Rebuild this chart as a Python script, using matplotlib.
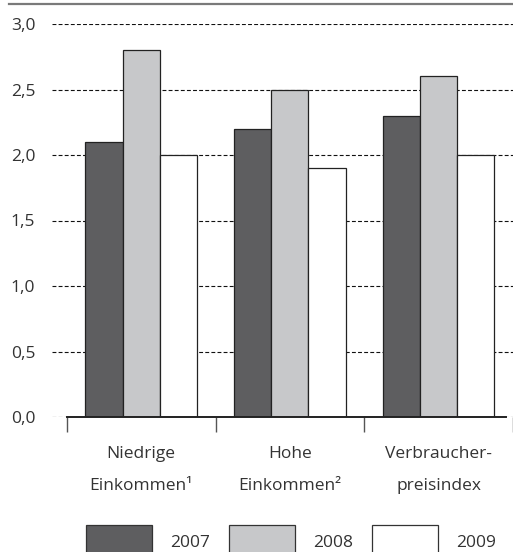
import matplotlib
matplotlib.use('Agg')
import matplotlib.pyplot as plt
import numpy as np
from matplotlib.lines import Line2D
from matplotlib.patches import Patch

# data
categories = ['Niedrige\nEinkommen\u00b9', 'Hohe\nEinkommen\u00b2', 'Verbraucher-\npreisindex']
years = ['2007', '2008', '2009']
values_2007 = [2.1, 2.2, 2.3]
values_2008 = [2.8, 2.5, 2.6]
values_2009 = [2.0, 1.9, 2.0]
y_ticks = [0.0, 0.5, 1.0, 1.5, 2.0, 2.5, 3.0]
y_labels = ['0,0', '0,5', '1,0', '1,5', '2,0', '2,5', '3,0']

colors = ['#5e5e60', '#c7c8ca', '#ffffff']
text_col = '#333333'
fs = 12.5
fs_px = fs * 100 / 72

plt.rcParams['font.family'] = ['Open Sans', 'DejaVu Sans']
plt.rcParams['font.size'] = fs

W, H = 513, 552
fig = plt.figure(figsize=(W / 100, H / 100), dpi=100)

# axes placed in pixel terms: grid starts at x=52, baseline y=417, 3.0 at y=24
ax_left, ax_right = 52, 513
ax_bottom, ax_top = 417, 24
ax = fig.add_axes([ax_left / W, 1 - ax_bottom / H,
                   (ax_right - ax_left) / W, (ax_bottom - ax_top) / H])

group_px = 151.0
x0 = -0.5 - (67 - ax_left) / group_px
x1 = -0.5 + (ax_right - 67) / group_px
ax.set_xlim(x0, x1)
ax.set_ylim(0, 3.0)

x = np.arange(len(categories))
w = 0.25
series = [values_2007, values_2008, values_2009]
for i, (vals, c) in enumerate(zip(series, colors)):
    ax.bar(x + (i - 1) * w, vals, w, color=c, edgecolor='#222222',
           linewidth=0.9, zorder=3, label=years[i])

ax.set_yticks(y_ticks)
ax.set_yticklabels(y_labels, color=text_col)
ax.yaxis.grid(True, linestyle=(0, (3.5, 2)), color='#111111', linewidth=0.8, zorder=0)
ax.tick_params(axis='y', length=0, pad=12)

ax.set_xticks(x)
ax.set_xticklabels(categories, color=text_col, linespacing=2.3)
ax.set_xticks(np.arange(len(categories) + 1) - 0.5, minor=True)
ax.tick_params(axis='x', which='major', length=0, pad=21)
ax.tick_params(axis='x', which='minor', length=11, width=1.0, color='#555555', direction='out')

for s in ['left', 'right', 'top']:
    ax.spines[s].set_visible(False)
ax.spines['bottom'].set_bounds(-0.5, x1)
ax.spines['bottom'].set_color('#222222')
ax.spines['bottom'].set_linewidth(1.4)
ax.spines['bottom'].set_zorder(4)

# top rule
fig.add_artist(Line2D([9 / W, 1], [1 - 4 / H, 1 - 4 / H], color='#7a7a7a', linewidth=1.6))

handles = [Patch(facecolor=c, edgecolor='#333333', linewidth=0.9) for c in colors]
leg = fig.legend(handles, years, loc='upper left', bbox_to_anchor=(86 / W, 1 - 525 / H),
                 ncol=3, frameon=False, borderpad=0, borderaxespad=0,
                 handlelength=66 / fs_px, handleheight=44 / fs_px,
                 handletextpad=18 / fs_px, columnspacing=19 / fs_px, fontsize=fs)
for t in leg.get_texts():
    t.set_color(text_col)

fig.savefig('out.png', dpi=100)
